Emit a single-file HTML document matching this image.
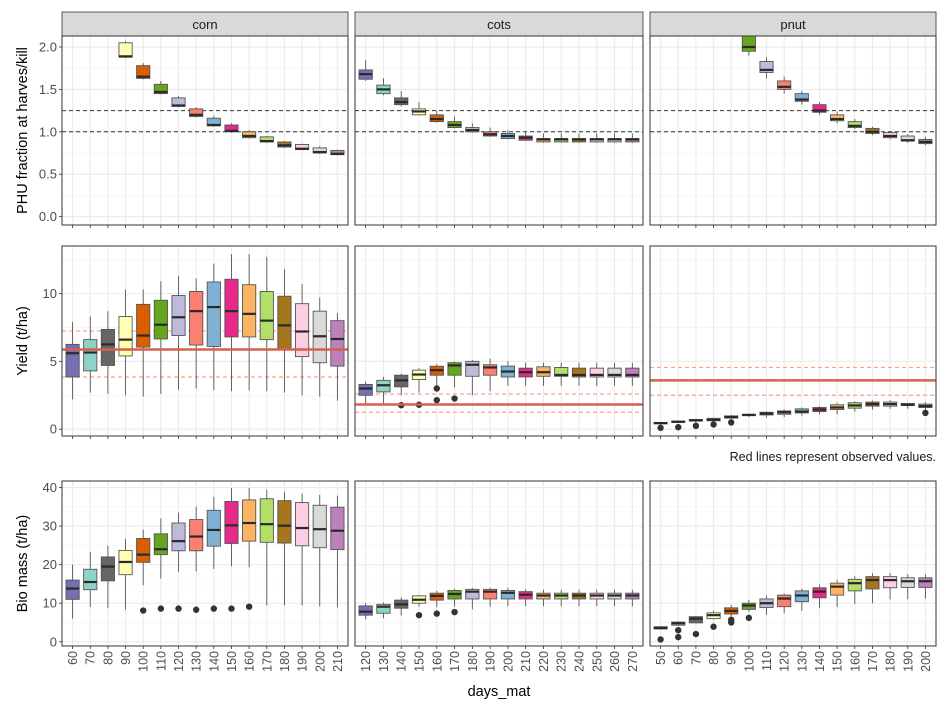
<!DOCTYPE html>
<html><head><meta charset="utf-8">
<style>
body{margin:0;background:#fff;}
svg{display:block;font-family:"Liberation Sans",sans-serif;}
</style></head>
<body>
<svg id="chart" width="944" height="701" viewBox="0 0 944 701" xmlns="http://www.w3.org/2000/svg"></svg>
<script>
const crops = ["corn","cots","pnut"];
const cornDays = [60,70,80,90,100,110,120,130,140,150,160,170,180,190,200,210];
const cotsDays = [120,130,140,150,160,170,180,190,200,210,220,230,240,250,260,270];
const pnutDays = [50,60,70,80,90,100,110,120,130,140,150,160,170,180,190,200];
const palette = ["#7570B3","#8DD3C7","#666666","#FFFFB3","#D95F02","#66A61E","#BEBADA","#FB8072","#80B1D3","#E7298A","#FDB462","#B3DE69","#A6761D","#FCCDE5","#D9D9D9","#BC80BD"];
// [lo, q1, median, q3, hi]
const cornPhu = [[2.95,3.0,3.05,3.1,3.15],[2.55,2.6,2.65,2.7,2.75],[2.2,2.25,2.28,2.32,2.36],[1.87,1.88,1.89,2.05,2.07],[1.62,1.63,1.65,1.78,1.81],[1.44,1.45,1.47,1.56,1.6],[1.29,1.3,1.31,1.4,1.42],[1.17,1.18,1.2,1.27,1.29],[1.06,1.07,1.08,1.16,1.19],[0.99,1.0,1.01,1.08,1.1],[0.92,0.93,0.95,1.0,1.02],[0.87,0.88,0.89,0.94,0.95],[0.81,0.82,0.84,0.88,0.89],[0.78,0.79,0.8,0.85,0.86],[0.74,0.75,0.76,0.81,0.83],[0.72,0.73,0.74,0.78,0.79]];
const cotsPhu = [[1.6,1.62,1.68,1.73,1.85],[1.43,1.45,1.5,1.55,1.63],[1.3,1.32,1.35,1.4,1.48],[1.19,1.2,1.24,1.27,1.35],[1.11,1.12,1.15,1.2,1.25],[1.04,1.05,1.08,1.12,1.18],[0.99,1.0,1.02,1.05,1.1],[0.94,0.95,0.97,1.0,1.05],[0.91,0.92,0.95,0.98,1.02],[0.89,0.9,0.93,0.95,1.0],[0.87,0.88,0.91,0.92,0.98],[0.87,0.88,0.91,0.92,0.98],[0.87,0.88,0.91,0.92,0.98],[0.87,0.88,0.91,0.92,0.98],[0.87,0.88,0.91,0.92,0.98],[0.87,0.88,0.91,0.92,0.98]];
const pnutPhu = [[3.6,3.65,3.7,3.8,3.9],[3.1,3.15,3.2,3.3,3.4],[2.75,2.8,2.85,2.9,3.0],[2.45,2.5,2.55,2.6,2.7],[2.2,2.25,2.3,2.35,2.45],[1.9,1.95,2.0,2.13,2.2],[1.63,1.7,1.73,1.83,1.88],[1.45,1.5,1.53,1.6,1.65],[1.32,1.36,1.38,1.45,1.48],[1.2,1.23,1.25,1.32,1.35],[1.1,1.13,1.15,1.2,1.24],[1.03,1.05,1.07,1.12,1.15],[0.96,0.98,1.0,1.04,1.06],[0.91,0.93,0.95,0.99,1.0],[0.87,0.89,0.9,0.95,0.97],[0.84,0.86,0.88,0.91,0.94]];
const cornYield = [[2.2,3.85,5.6,6.25,7.9],[2.7,4.3,5.65,6.6,8.3],[2.6,4.7,6.25,7.35,8.7],[2.5,5.4,6.6,8.3,10.3],[2.4,6.05,6.9,9.2,10.3],[2.6,6.65,7.7,9.5,10.9],[2.9,6.9,8.25,9.85,11.3],[3.0,6.2,8.7,10.15,11.1],[2.9,6.1,9.0,10.85,12.2],[2.8,6.8,8.7,11.05,12.9],[2.85,6.8,8.5,10.65,12.9],[2.8,6.6,8.0,10.15,12.7],[2.7,5.85,7.65,9.8,11.8],[2.5,5.35,7.2,9.25,10.7],[2.4,4.9,6.85,8.7,9.7],[2.1,4.65,6.65,8.0,8.55]];
const cotsYield = [[1.9,2.5,3.0,3.3,3.5],[1.9,2.75,3.24,3.6,3.85],[2.5,3.12,3.6,3.98,4.1],[2.7,3.66,4.03,4.35,4.5],[3.2,3.98,4.35,4.64,4.8],[3.1,3.98,4.7,4.9,5.0],[2.5,3.9,4.75,5.0,5.1],[2.8,3.98,4.55,4.75,5.2],[3.2,3.85,4.25,4.65,5.0],[3.2,3.85,4.2,4.5,4.9],[3.2,3.9,4.2,4.6,4.9],[3.2,3.9,4.0,4.55,4.9],[3.2,3.85,4.0,4.5,4.9],[3.2,3.85,4.0,4.5,4.9],[3.2,3.85,4.0,4.5,4.9],[3.2,3.85,4.0,4.5,4.9]];
const pnutYield = [[0.35,0.4,0.45,0.5,0.5],[0.45,0.5,0.55,0.6,0.62],[0.5,0.6,0.65,0.72,0.75],[0.5,0.62,0.7,0.8,0.85],[0.7,0.82,0.9,0.98,1.05],[0.9,1.0,1.05,1.1,1.15],[0.85,1.05,1.15,1.25,1.3],[0.9,1.1,1.25,1.35,1.45],[1.0,1.2,1.3,1.5,1.6],[1.1,1.3,1.45,1.6,1.7],[1.1,1.45,1.6,1.8,1.95],[1.3,1.55,1.75,1.95,2.05],[1.45,1.7,1.85,2.0,2.1],[1.5,1.7,1.85,2.0,2.15],[1.5,1.75,1.8,1.9,1.95],[1.4,1.6,1.7,1.85,2.0]];
const cornBio = [[6,11,13.8,16,20],[9,13.5,15.5,18.8,23.3],[8.7,15.8,19.5,22,24.9],[8.4,17.4,20.7,23.7,26.7],[14.7,20.6,22.6,26.8,29.1],[16.4,22.6,24,28,32],[18.2,23.6,26.1,30.8,33.5],[18.3,23.6,27.3,31.7,35],[18.9,24.8,29,34.1,37.6],[19.6,25.5,30.2,36.4,39.9],[19.3,26.1,30.8,36.8,39.9],[9.4,25.8,30.5,37.1,39.4],[9.4,25.6,30.1,36.6,38.9],[9.4,24.9,29.5,36.1,38.4],[9.2,24.4,29.2,35.4,38.1],[8.9,23.9,28.8,34.9,37.9]];
const cotsBio = [[5.8,6.9,7.8,9.3,10],[6.1,7.4,9.1,9.7,10.2],[6.8,8.7,9.7,10.8,11.5],[9.1,10,10.9,11.9,12.2],[9,10.8,11.9,12.6,13.2],[9.1,11.1,12.4,13.3,13.8],[8.4,11.1,13,13.6,14],[9.1,11.1,13,13.6,14],[9.2,11.1,12.7,13.3,14],[9.2,11.1,12.2,13,13.6],[9.2,11.1,12,12.6,13.5],[9.2,11.1,12,12.6,13.5],[9.2,11.1,12,12.6,13.5],[9.2,11.1,12,12.6,13.5],[9.2,11.1,12,12.6,13.5],[9.2,11.1,12,12.6,13.5]];
const pnutBio = [[3.2,3.3,3.6,3.9,4.0],[4.1,4.3,4.8,5.1,5.3],[4.8,4.9,6.0,6.5,6.7],[5.8,6.0,6.9,7.5,8.1],[6.5,7.2,8.0,8.8,9.5],[7.8,8.4,9.4,10,10.9],[7,8.9,10,11.1,12],[7.4,9.1,11.2,12.1,12.5],[8,10.4,12,13.2,13.8],[8.7,11.4,13,14,14.9],[9,12.1,14.3,15.2,16.1],[9.8,13.2,15.2,16.2,17],[10,13.7,16,16.9,17.8],[11,14,16,16.9,17.8],[11,14.1,15.7,16.6,17.5],[11.2,14.1,15.7,16.6,17.5]];
// outliers: [categoryIndex, value]
const cotsYieldOut = [[2,1.77],[3,1.8],[4,3.0],[4,2.14],[5,2.26]];
const pnutYieldOut = [[0,0.1],[1,0.15],[2,0.25],[3,0.35],[4,0.5],[15,1.2]];
const cornBioOut = [[4,8.1],[5,8.6],[6,8.6],[7,8.3],[8,8.6],[9,8.6],[10,9.1]];
const cotsBioOut = [[3,6.9],[4,7.3],[5,7.7]];
const pnutBioOut = [[0,0.6],[1,3.0],[1,1.2],[2,2.0],[3,3.9],[4,5.7],[4,5.0],[5,6.2]];
// observed lines [solid, dashedLow, dashedHigh]
const yieldObs = [[5.87,3.85,7.24],[1.82,1.25,2.6],[3.6,2.5,4.55]];
const phuRefLines = [1.0,1.25];

const yTicks = [[0,0.5,1.0,1.5,2.0],[0,5,10],[0,10,20,30,40]];
const yTickLabels = [["0.0","0.5","1.0","1.5","2.0"],["0","5","10"],["0","10","20","30","40"]];
const yMinor = [[0.25,0.75,1.25,1.75],[2.5,7.5,12.5],[5,15,25,35]];
const yTitles = ["PHU fraction at harves/kill","Yield (t/ha)","Bio mass (t/ha)"];

const NS="http://www.w3.org/2000/svg";
const svg=document.getElementById("chart");
function mk(tag,attrs,parent){const e=document.createElementNS(NS,tag);for(const k in attrs)e.setAttribute(k,attrs[k]);(parent||svg).appendChild(e);return e;}

const colX=[[62,348],[355,643],[650,936]];
const rowY=[[36,225],[246,436],[481,646]];
const yDom=[[-0.1,2.13],[-0.5,13.5],[-1.1,41.7]];
const days=[cornDays,cotsDays,pnutDays];
const data=[[cornPhu,cotsPhu,pnutPhu],[cornYield,cotsYield,pnutYield],[cornBio,cotsBio,pnutBio]];
const outs=[[[],[],[]],[[],cotsYieldOut,pnutYieldOut],[cornBioOut,cotsBioOut,pnutBioOut]];

for(let c=0;c<3;c++){
  const sg=mk("g",{});
  
  
  mk("rect",{x:colX[c][0],y:12,width:colX[c][1]-colX[c][0],height:24,fill:"#d9d9d9",stroke:"#333","stroke-width":0.8},sg);
  const t=mk("text",{x:(colX[c][0]+colX[c][1])/2,y:29,"text-anchor":"middle","font-size":13,fill:"#1a1a1a"},sg);
  t.textContent=crops[c];
}

for(let r=0;r<3;r++){
  const [y0,y1]=rowY[r];const [d0,d1]=yDom[r];
  const ys=v=>y1-(v-d0)/(d1-d0)*(y1-y0);
  for(let c=0;c<3;c++){
    const [x0,x1]=colX[c];
    const n=days[c].length;
    const step=(x1-x0)/(n-1+1.2);
    const xs=i=>x0+step*(0.6+i);
    const g=mk("g",{});
    
    
    const cid="clip"+r+c;
    const cp=mk("clipPath",{id:cid},g);
    mk("rect",{x:x0,y:y0,width:x1-x0,height:y1-y0},cp);
    mk("rect",{x:x0,y:y0,width:x1-x0,height:y1-y0,fill:"#fff"},g);
    yMinor[r].forEach(v=>{if(ys(v)>y0)mk("line",{x1:x0,x2:x1,y1:ys(v),y2:ys(v),stroke:"#f2f2f2","stroke-width":0.6},g);});
    yTicks[r].forEach(v=>mk("line",{x1:x0,x2:x1,y1:ys(v),y2:ys(v),stroke:"#ebebeb","stroke-width":1.1},g));
    for(let i=0;i<n;i++)mk("line",{x1:xs(i),x2:xs(i),y1:y0,y2:y1,stroke:"#ebebeb","stroke-width":1.1},g);
    const pg=mk("g",{"clip-path":"url(#"+cid+")"},g);
    if(r===0){phuRefLines.forEach(v=>{const l=mk("line",{x1:x0,x2:x1,y1:ys(v),y2:ys(v),stroke:"#333","stroke-width":1,"stroke-dasharray":"4,3"},pg);});}
    if(r===1){const o=yieldObs[c];
      [o[1],o[2]].forEach(v=>{const l=mk("line",{x1:x0,x2:x1,y1:ys(v),y2:ys(v),stroke:"#f4a582","stroke-width":1.2,"stroke-dasharray":"4,3"},pg);});}
    data[r][c].forEach((b,i)=>{
      const bg=mk("g",{},pg);
      
      
      const x=xs(i),w=step*0.75;
      mk("line",{x1:x,x2:x,y1:ys(b[0]),y2:ys(b[4]),stroke:"#555","stroke-width":0.9},bg);
      mk("rect",{x:x-w/2,y:ys(b[3]),width:w,height:Math.max(ys(b[1])-ys(b[3]),0.5),fill:palette[i],stroke:"#555","stroke-width":0.9},bg);
      mk("line",{x1:x-w/2,x2:x+w/2,y1:ys(b[2]),y2:ys(b[2]),stroke:"#2a2a2a","stroke-width":2.2},bg);
    });
    outs[r][c].forEach(o=>{const p=mk("circle",{cx:xs(o[0]),cy:ys(o[1]),r:3.2,fill:"#333"},pg);});
    if(r===1){const l=mk("line",{x1:x0,x2:x1,y1:ys(yieldObs[c][0]),y2:ys(yieldObs[c][0]),stroke:"#d6604d","stroke-width":2.5},pg);}
    mk("rect",{x:x0,y:y0,width:x1-x0,height:y1-y0,fill:"none",stroke:"#333","stroke-width":1},g);
    for(let i=0;i<n;i++){
      mk("line",{x1:xs(i),x2:xs(i),y1:y1,y2:y1+3,stroke:"#333","stroke-width":0.8},g);
      if(r===2){const t=mk("text",{x:0,y:0,transform:`translate(${xs(i)+4.5},${y1+5}) rotate(-90)`,"text-anchor":"end","font-size":12.5,fill:"#4d4d4d"},g);
        t.textContent=days[c][i];}
    }
    if(c===0){
      yTicks[r].forEach((v,k)=>{
        mk("line",{x1:x0-3,x2:x0,y1:ys(v),y2:ys(v),stroke:"#333","stroke-width":0.8},g);
        const t=mk("text",{x:x0-5,y:ys(v)+4.5,"text-anchor":"end","font-size":13,fill:"#4d4d4d"},g);
        t.textContent=yTickLabels[r][k];
      });
    }
  }
  const t=mk("text",{transform:`translate(27,${(y0+y1)/2}) rotate(-90)`,"text-anchor":"middle","font-size":14.5,fill:"#000"});
  t.textContent=yTitles[r];
}
const cap=mk("text",{x:936,y:461,"text-anchor":"end","font-size":12.5,fill:"#1a1a1a"});
cap.textContent="Red lines represent observed values.";
const xt=mk("text",{x:499,y:696,"text-anchor":"middle","font-size":14.5,fill:"#000"});
xt.textContent="days_mat";
</script>
</body></html>
